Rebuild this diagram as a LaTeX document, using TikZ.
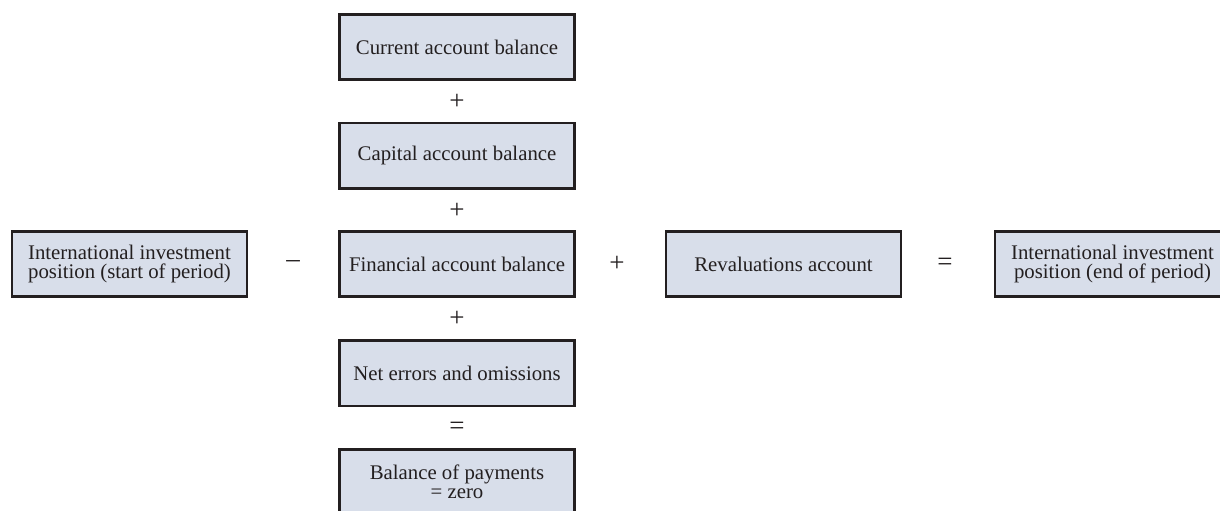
\documentclass[tikz,border=0pt]{standalone}
\usepackage{fontspec}
\setmainfont{Liberation Serif}
\usepackage{xcolor}
\usepackage{tikz}
\definecolor{boxfill}{HTML}{D8DEEA}
\definecolor{boxline}{HTML}{231F20}

\begin{document}
\begin{tikzpicture}[x=1pt, y=-1pt,
    acct/.style={draw=boxline, line width=2.7pt, fill=boxfill, inner sep=0pt,
        minimum width=235pt, minimum height=65.5pt, align=center,
        font=\fontsize{20.8}{19.5}\selectfont, text=boxline},
    op/.style={inner sep=0pt, font=\fontsize{27}{27}\selectfont, text=boxline}]
    \useasboundingbox (0,0) rectangle (1220,511);

    % Balance of payments column
    \node[acct] (cur) at (457,47) {Current account balance};
    \node[acct] (cap) at (457,155.75) {Capital account balance};
    \node[acct] (fin) at (457,264) {Financial account balance};
    \node[acct] (err) at (457,373.25) {Net errors and omissions};
    \node[acct] (bop) at (457,482) {Balance of payments\\= zero};

    % Operators in the column
    \node[op] (plusA) at (457,101.5) {+};
    \node[op] (plusB) at (457,210.5) {+};
    \node[op] (plusC) at (457,319) {+};
    \node[op] (eqA) at (457,428) {=};

    % Investment position row
    \node[acct] (iipstart) at (129.5,264) {International investment\\position (start of period)};
    \node[acct] (reval) at (783.5,264) {Revaluations account};
    \node[acct] (iipend) at (1112.5,264) {International investment\\position (end of period)};

    % Operators in the row
    \node[op] (minus) at (293,264) {–};
    \node[op] (plusD) at (617,264) {+};
    \node[op] (eqB) at (945,264) {=};
\end{tikzpicture}
\end{document}
